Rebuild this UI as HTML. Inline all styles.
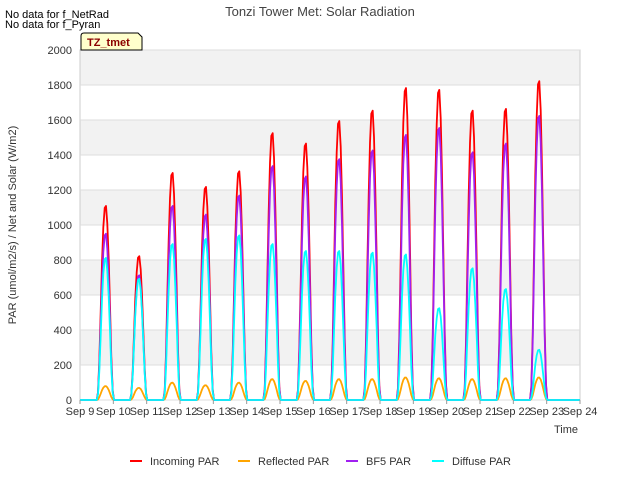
<!DOCTYPE html>
<html><head><meta charset="utf-8"><style>
body{margin:0;background:#fff;font-family:"Liberation Sans",sans-serif}
svg text{font-family:"Liberation Sans",sans-serif}
</style></head><body>
<svg width="640" height="480">
<text x="5" y="18" font-size="11">No data for f_NetRad</text>
<text x="5" y="28" font-size="11">No data for f_Pyran</text>
<text x="320" y="16" font-size="13" fill="#444" text-anchor="middle">Tonzi Tower Met: Solar Radiation</text>
<g id="grid"></g>
<g id="marks"></g>
<g id="axes"></g>
<g><path d="M81,50 V36 Q81,33 84,33 H138 L142,37 V50 Z" fill="#ffffcc" stroke="#000"/><text x="87" y="46" font-size="11" font-weight="bold" fill="#8b0000">TZ_tmet</text></g>
<text x="16" y="225" font-size="11" fill="#333" text-anchor="middle" transform="rotate(-90 16 225)">PAR (umol/m2/s) / Net and Solar (W/m2)</text>
<text x="578" y="433" font-size="11" fill="#333" text-anchor="end">Time</text>
<g id="legend"></g>
</svg>
<script>
const dayLabels=["Sep 9","Sep 10","Sep 11","Sep 12","Sep 13","Sep 14","Sep 15","Sep 16","Sep 17","Sep 18","Sep 19","Sep 20","Sep 21","Sep 22","Sep 23","Sep 24"];
const yTicks=[0,200,400,600,800,1000,1200,1400,1600,1800,2000];
const incoming=[1120,830,1310,1230,1320,1540,1480,1610,1670,1800,1790,1670,1680,1840];
const bf5=[960,720,1120,1070,1180,1350,1290,1390,1440,1530,1570,1430,1480,1640];
const diffuse=[820,700,900,930,950,900,860,860,850,840,530,760,640,290];
const reflected=[80,70,100,85,100,120,110,120,120,130,125,120,125,130];
const profileT=[0.5,0.54,0.58,0.62,0.66,0.7,0.74,0.78,0.82,0.86,0.9,0.94,0.98,1.02];
const profileV=[0,0.04,0.2,0.45,0.7,0.88,0.98,0.99,0.9,0.72,0.48,0.22,0.05,0];
const X0=80,X1=580,Y0=400,Y1=50;
const xs=d=>X0+(X1-X0)*d/15, ys=v=>Y0-(Y0-Y1)*v/2000;
const NS="http://www.w3.org/2000/svg";
function mk(t,a,p){const e=document.createElementNS(NS,t);for(const k in a)e.setAttribute(k,a[k]);p.appendChild(e);return e;}
const grid=document.getElementById('grid'),axes=document.getElementById('axes'),marks=document.getElementById('marks');
for(let i=0;i<yTicks.length-1;i++){
 if(i%2==1){const r=mk('rect',{x:X0,y:ys(yTicks[i+1]),width:X1-X0,height:ys(yTicks[i])-ys(yTicks[i+1]),fill:'#f2f2f2'},grid);
 
 }
}
mk('rect',{x:X0,y:Y1,width:X1-X0,height:Y0-Y1,fill:'none',stroke:'#ccc'},grid);
yTicks.forEach(v=>{mk('line',{x1:X0,x2:X1,y1:ys(v),y2:ys(v),stroke:'#ddd'},grid);
 const t=mk('text',{x:X0-8,y:ys(v)+4,'font-size':11,fill:'#333','text-anchor':'end'},axes);t.textContent=v;
 
 });
dayLabels.forEach((l,i)=>{const x=xs(i);mk('line',{x1:x,x2:x,y1:Y0,y2:Y0+4,stroke:'#999'},axes);
 const t=mk('text',{x:x,y:Y0+15,'font-size':11,fill:'#333','text-anchor':'middle'},axes);t.textContent=l;
 
 });
function series(peaks,color,name){
 let d='M'+X0+','+Y0;
 peaks.forEach((p,i)=>{profileT.forEach((t,j)=>{d+=' L'+xs(i+t).toFixed(1)+','+ys(p*profileV[j]).toFixed(1);});});
 d+=' L'+xs(15)+','+Y0;
 const e=mk('path',{d:d,fill:'none',stroke:color,'stroke-width':1.8,'stroke-linejoin':'round'},marks);
 
 
}
series(incoming,'#ff0000','incoming-par-line');
series(reflected,'#ffa500','reflected-par-line');
series(bf5,'#a020f0','bf5-par-line');
series(diffuse,'#00ffff','diffuse-par-line');
const legNames=["Incoming PAR","Reflected PAR","BF5 PAR","Diffuse PAR"];
const legColors=["#ff0000","#ffa500","#a020f0","#00ffff"];
const legX=[130,238,346,432];
const lg=document.getElementById('legend');
legNames.forEach((n,i)=>{const g=mk('g',{},lg);
 
 
 mk('line',{x1:legX[i],x2:legX[i]+12,y1:461,y2:461,stroke:legColors[i],'stroke-width':2},g);
 const t=mk('text',{x:legX[i]+20,y:465,'font-size':11,fill:'#333'},g);t.textContent=n;});
</script>
</body></html>
